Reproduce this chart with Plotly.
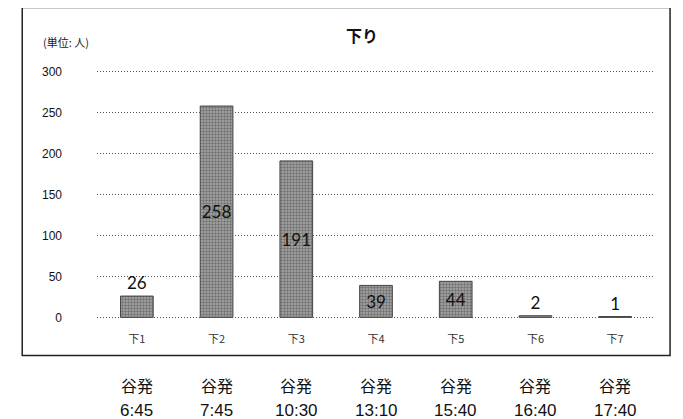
import plotly.graph_objects as go

categories = ["下1", "下2", "下3", "下4", "下5", "下6", "下7"]
values = [26, 258, 191, 39, 44, 2, 1]
departures = ["6:45", "7:45", "10:30", "13:10", "15:40", "16:40", "17:40"]
y_ticks = [0, 50, 100, 150, 200, 250, 300]

text_pos = ["inside" if v > 30 else "outside" for v in values]

fig = go.Figure(go.Bar(
    x=categories, y=values,
    text=[str(v) for v in values],
    textposition=text_pos,
    insidetextanchor="middle",
    textangle=0,
    textfont=dict(family="Lato, sans-serif", size=17, color="#111"),
    constraintext="none",
    cliponaxis=False,
    marker=dict(color="#8f8f8f",
                line=dict(color="#444", width=1),
                pattern=dict(shape=".", fgcolor="#3a3a3a", bgcolor="#a8a8a8", size=3, solidity=0.5)),
    width=0.41,
))

annotations = [
    dict(text="<b>下り</b>", x=0.475, y=1.142, xref="paper", yref="paper", showarrow=False,
         font=dict(family="Noto Sans CJK JP", size=16, color="#111"), xanchor="center", yanchor="middle"),
    dict(text="(単位: 人)", x=-0.1, y=1.114, xref="paper", yref="paper", showarrow=False,
         font=dict(family="Noto Sans CJK JP", size=11, color="#222"), xanchor="left", yanchor="middle"),
]
for c, d in zip(categories, departures):
    annotations.append(dict(text="谷発", x=c, y=-0.267, xref="x", yref="paper", showarrow=False,
                            font=dict(family="Noto Sans CJK JP", size=16, color="#111"), yanchor="middle"))
    annotations.append(dict(text=d, x=c, y=-0.368, xref="x", yref="paper", showarrow=False,
                            font=dict(family="Liberation Sans, Arial", size=17, color="#111"), yanchor="middle"))

fig.update_layout(
    width=675, height=411,
    margin=dict(l=89, r=28, t=62, b=100),
    paper_bgcolor="white", plot_bgcolor="white",
    showlegend=False,
    annotations=annotations,
    shapes=[dict(type="rect", xref="paper", yref="paper", x0=-0.134, x1=1.027, y0=-0.147, y1=1.251,
                 line=dict(color="#222", width=1.5), layer="below")],
    xaxis=dict(showgrid=False, showline=False, ticks="", ticklabelstandoff=12,
               tickfont=dict(family="Noto Sans CJK JP", size=11, color="#333")),
    yaxis=dict(range=[-2, 302], tickvals=y_ticks, showgrid=True, gridcolor="#555",
               griddash="1px,2px", gridwidth=1, zeroline=False, showline=False, ticks="",
               ticklabelstandoff=34,
               tickfont=dict(family="Liberation Sans, Arial", size=12, color="#111")),
    bargap=0.59,
)

fig.write_html("out.html")
